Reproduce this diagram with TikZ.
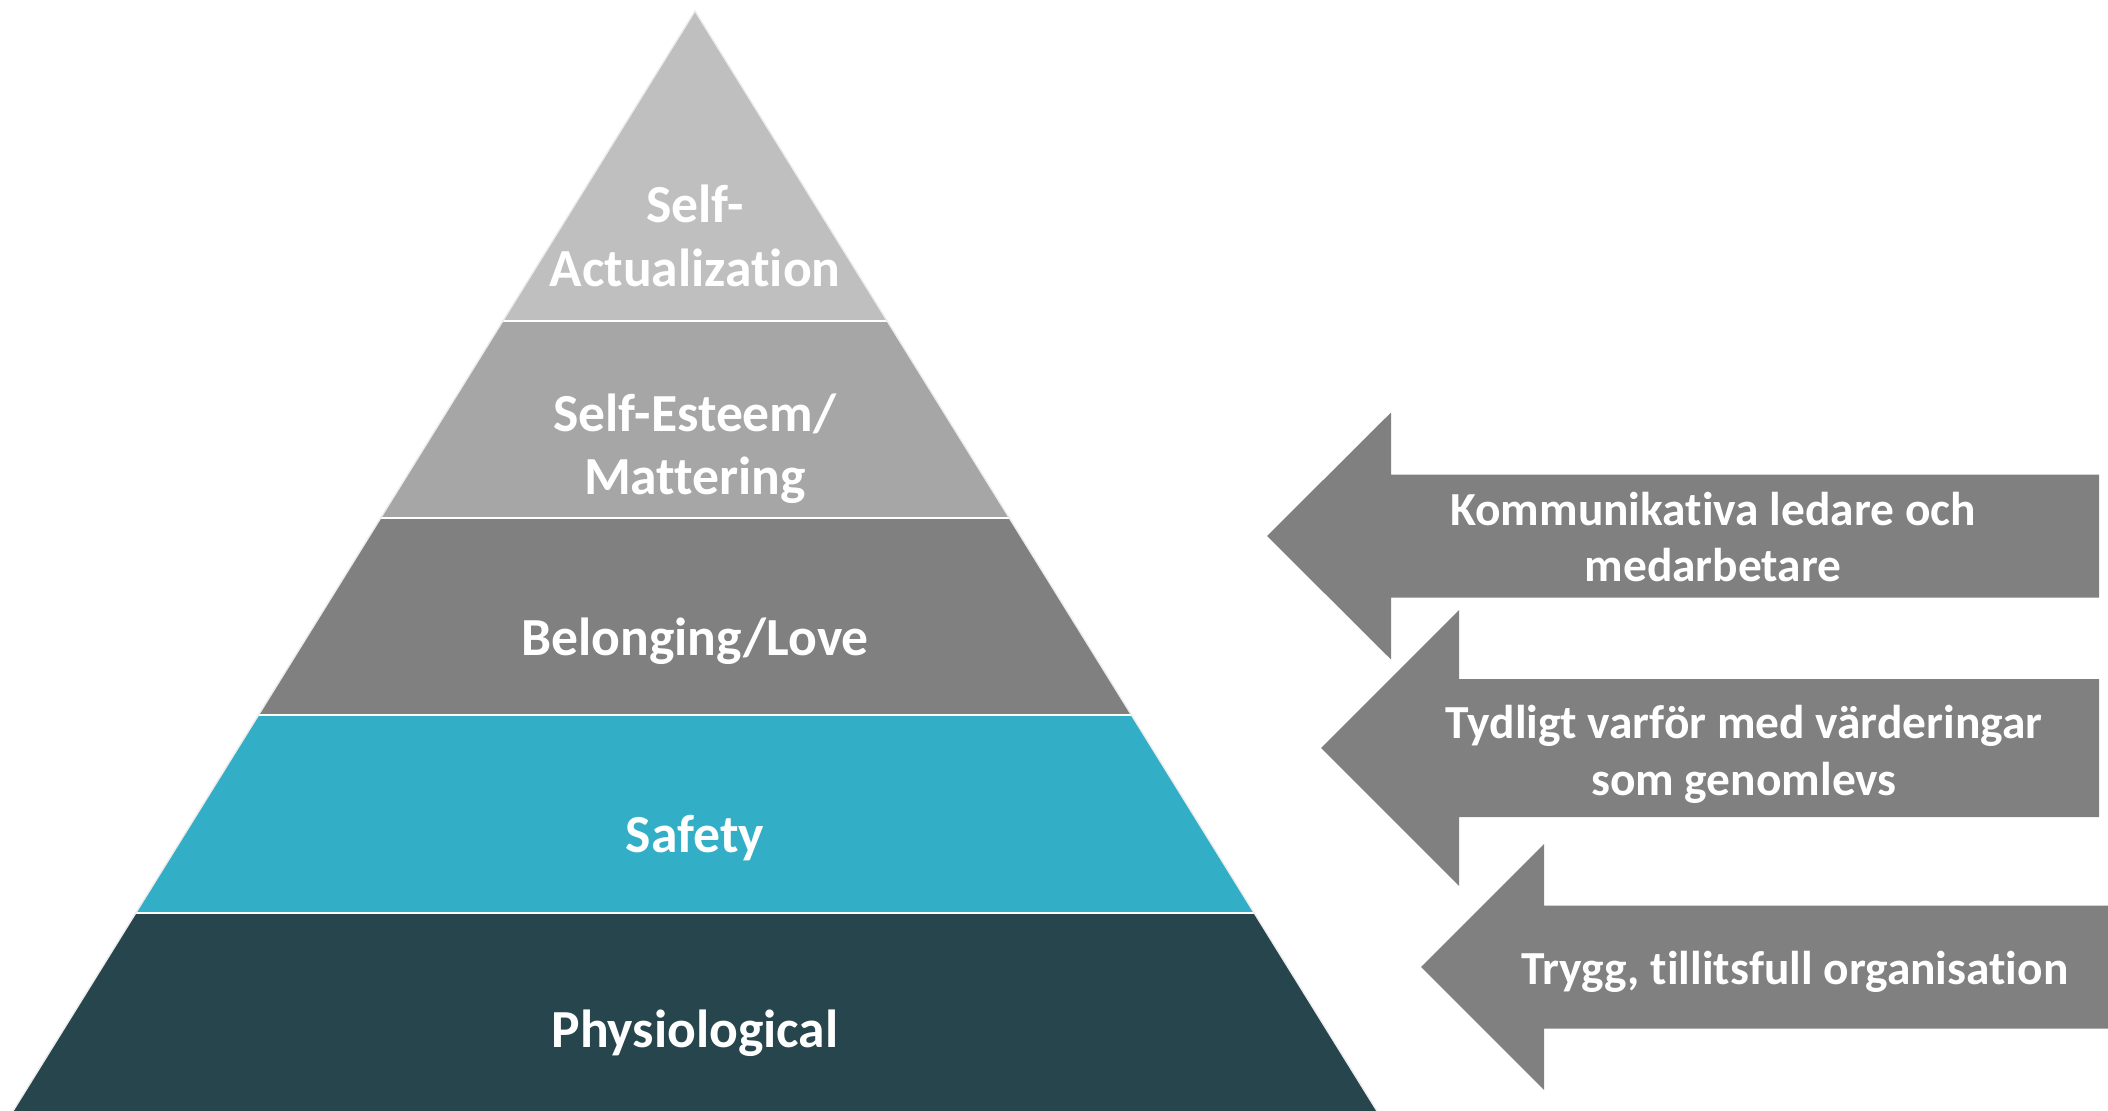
\documentclass[tikz,border=0pt]{standalone}
\usepackage{fontspec}
\setmainfont{Carlito}[Ligatures=NoCommon]
\usetikzlibrary{calc}
\definecolor{topgray}{HTML}{BFBFBF}
\definecolor{midgray}{HTML}{A6A6A6}
\definecolor{belgray}{HTML}{808080}
\definecolor{safeteal}{HTML}{32AFC6}
\definecolor{physdark}{HTML}{26454C}
\definecolor{arrowgray}{HTML}{808080}
\begin{document}
\begin{tikzpicture}[x=0.02cm,y=-0.02cm,
  lbl/.style={text=white,font=\bfseries\fontsize{30.5}{36}\selectfont,align=center},
  albl/.style={text=white,font=\bfseries\fontsize{27}{32.4}\selectfont,align=center}]
\useasboundingbox (0,0) rectangle (2108,1111);
\coordinate (apex) at (695,11);
\coordinate (bl) at (13,1111);
\coordinate (br) at (1377,1111);
% pyramid layers, top to bottom
\foreach \a/\b/\c in {0/.2818/topgray,.2818/.4609/midgray,.4609/.64/belgray,.64/.82/safeteal,.82/1/physdark}
  \fill[\c]($(apex)!\a!(bl)$)--($(apex)!\b!(bl)$)--($(apex)!\b!(br)$)--($(apex)!\a!(br)$)--cycle;
\foreach \b in {.2818,.4609,.64,.82}
  \draw[white,line width=1.2pt]($(apex)!\b!(bl)$)--($(apex)!\b!(br)$);
\draw[gray!15,line width=.8pt](bl)--(apex)--(br);
\node[lbl] (selfact) at (695,236) {Self-\\Actualization};
\node[lbl] (esteem) at (695,449) {Self-Esteem/\\Mattering};
\node[lbl] (belong) at (695,641) {Belonging/Love};
\node[lbl] (safety) at (695,838) {Safety};
\node[lbl] (physio) at (695,1033) {Physiological};
% arrows: tip x/y, head base x, head and shaft half heights, right end
\foreach \tx/\ty/\hx/\hh/\sh/\rx in {1267/536/1391/123.5/61.5/2099,1321/748/1459/138/69/2099,1421/967/1544/123/61.5/2130}
  \fill[arrowgray](\tx,\ty)--(\hx,\ty-\hh)--(\hx,\ty-\sh)--(\rx,\ty-\sh)--(\rx,\ty+\sh)--(\hx,\ty+\sh)--(\hx,\ty+\hh)--cycle;
\node[albl] (komm) at (1713,537) {Kommunikativa ledare och\\medarbetare};
\node[albl] (tydl) at (1744,754) {Tydligt varför med värderingar\\som genomlevs};
\node[albl] (trygg) at (1795,972) {Trygg, tillitsfull organisation};
\end{tikzpicture}
\end{document}
